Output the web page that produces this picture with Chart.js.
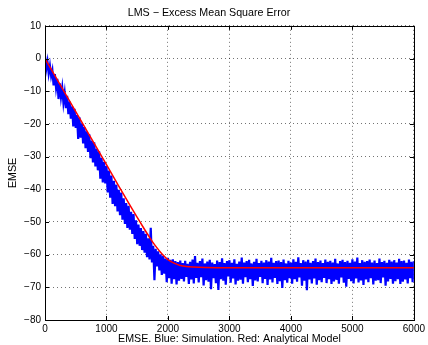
<!DOCTYPE html>
<html lang="en">
<head>
    <meta charset="UTF-8">
    <title>LMS - Excess Mean Square Error</title>
    <script src="https://cdn.jsdelivr.net/npm/chart.js"></script>
    <style>
        html, body { margin: 0; padding: 0; background: #fff; }
        #wrap { width: 428px; height: 345px; }
    </style>
</head>
<body>
<div id="wrap"><canvas id="emseChart" width="428" height="345"></canvas></div>
<script>
    // simulation, one value every SIM_STEP samples (dB)
    const SIM_STEP = 20;
    const simDb = [
        0.8, -3.2, -0.9, -4.6, -2.2, -5.4, -3.6, -8.2, -4.8, -9.0,
        -6.2, -12.4, -7.6, -11.8, -8.9, -13.6, -10.6, -15.2, -11.4, -17.0,
        -13.2, -18.4, -14.6, -20.8, -15.4, -21.2, -17.3, -24.6, -18.0, -24.2,
        -19.9, -26.0, -21.0, -27.4, -22.3, -28.6, -23.2, -30.5, -25.1, -31.8,
        -25.6, -33.0, -27.6, -34.2, -28.4, -36.8, -30.4, -37.9, -31.6, -38.2,
        -32.9, -41.0, -34.3, -42.6, -35.8, -44.5, -37.4, -45.2, -38.6, -46.8,
        -40.2, -47.9, -41.0, -49.3, -42.8, -50.6, -44.2, -51.8, -45.1, -52.4,
        -46.9, -53.7, -47.6, -55.2, -49.5, -56.8, -50.8, -57.3, -51.9, -58.6,
        -52.8, -59.4, -53.6, -60.8, -55.0, -61.5, -51.8, -62.4, -57.3, -67.8,
        -58.2, -63.6, -59.0, -64.8, -59.9, -66.2, -60.4, -65.8, -61.2, -68.4,
        -61.0, -67.2, -61.6, -68.9, -61.4, -67.5, -62.0, -69.1, -62.3, -68.0,
        -61.8,
        -67.4, -62.6, -68.2, -61.9, -66.8, -62.8, -69.0, -62.2, -67.6, -61.5,
        -68.8, -60.4, -67.1, -62.5, -68.5, -62.0, -66.9, -61.2, -69.4, -62.7,
        -67.8, -62.1, -68.3, -61.6, -70.6, -62.4, -67.2, -62.9, -68.7, -61.8,
        -70.8, -62.3, -67.5, -61.1, -68.0, -62.6, -69.2, -62.0, -66.7, -61.7,
        -68.6, -62.5, -67.3, -61.4, -69.1, -62.8, -68.0, -62.1, -67.7, -60.9,
        -68.9, -62.4, -66.9, -62.0, -68.4, -61.6, -67.5, -62.7, -69.6, -62.2,
        -67.9, -61.3, -68.2, -62.6, -66.8, -61.9, -68.7, -62.4, -67.4, -61.7,
        -69.3, -62.1, -67.6, -61.0, -68.5, -62.5, -67.1, -62.0, -69.0, -61.8,
        -68.1, -62.3, -70.2, -61.5, -67.8, -62.7, -68.6, -61.9, -67.2, -62.4,
        -68.9, -61.4, -67.5, -62.2, -68.3, -60.8, -67.0, -62.6, -69.5, -61.7,
        -68.0, -62.1, -70.9, -61.6, -67.6, -62.5, -68.8, -62.0, -67.3, -61.2,
        -69.2, -62.3, -67.8, -61.8, -68.4, -62.6, -67.1, -61.5, -68.7, -62.2,
        -67.5, -61.9, -69.0, -62.4, -68.2, -61.3, -67.7, -62.7, -68.9, -62.0,
        -67.0, -61.6, -68.6, -62.3, -69.8, -61.9, -67.4, -62.5, -68.1, -61.4,
        -68.8, -62.1, -67.3, -60.9, -68.5, -62.6, -67.9, -61.7, -69.3, -62.2,
        -67.6, -62.0, -68.4, -61.5, -67.2, -62.4, -69.1, -61.8, -68.0, -62.6,
        -67.8, -61.2, -68.7, -62.3, -67.0, -61.9, -69.5, -62.5, -68.2, -61.6,
        -67.4, -62.1, -68.9, -61.7, -68.1, -62.4, -67.5, -61.3, -69.0, -62.0,
        -68.3, -61.8, -67.6, -62.5, -68.8, -61.5, -67.2, -62.2, -68.4, -62.0
    ];

    // analytical model (dB)
    const modelN  = [0, 1000, 1400, 1500, 1600, 1700, 1800, 1900, 2000, 2100, 2200, 2300, 2400, 2600, 2800, 6000];
    const modelDb = [0, -32.5, -45.5, -48.6, -51.7, -54.7, -57.4, -59.7, -61.5, -62.6, -63.3, -63.65, -63.8, -63.95, -64, -64];

    const xTicks = [0, 1000, 2000, 3000, 4000, 5000, 6000];
    const yTicks = [10, 0, -10, -20, -30, -40, -50, -60, -70, -80];

    const simPoints = simDb.map((v, i) => ({ x: i * SIM_STEP, y: v }));
    const modelPoints = modelN.map((n, i) => ({ x: n, y: modelDb[i] }));

    const font = { family: "'Liberation Sans', Arial, Helvetica, sans-serif", size: 10 };
    const titleFont = { ...font, size: 10.7, weight: 'normal' };
    const fmt = v => String(v).replace('-', '\u2212');

    // matlab style box + inward tick marks
    const axesBox = {
        id: 'axesBox',
        afterDatasetsDraw(chart) {
            const { ctx, chartArea: a, scales } = chart;
            ctx.save();
            ctx.strokeStyle = '#000';
            ctx.lineWidth = 1;
            ctx.beginPath();
            xTicks.forEach(t => {
                const px = Math.round(scales.x.getPixelForValue(t)) + 0.5;
                ctx.moveTo(px, a.bottom); ctx.lineTo(px, a.bottom - 4);
                ctx.moveTo(px, a.top); ctx.lineTo(px, a.top + 4);
            });
            yTicks.forEach(t => {
                const py = Math.round(scales.y.getPixelForValue(t)) + 0.5;
                ctx.moveTo(a.left, py); ctx.lineTo(a.left + 4, py);
                ctx.moveTo(a.right, py); ctx.lineTo(a.right - 4, py);
            });
            ctx.stroke();
            ctx.strokeRect(Math.round(a.left) + 0.5, Math.round(a.top) + 0.5,
                Math.round(a.right - a.left), Math.round(a.bottom - a.top));
            ctx.restore();
        }
    };

    new Chart(document.getElementById('emseChart'), {
        type: 'line',
        data: {
            datasets: [
                {
                    label: 'Analytical Model',
                    data: modelPoints,
                    borderColor: '#ff0000',
                    borderWidth: 1.5,
                    pointRadius: 0,
                    tension: 0.3,
                    order: 0
                },
                {
                    label: 'Simulation',
                    data: simPoints,
                    borderColor: '#0000ff',
                    borderWidth: 2.2,
                    pointRadius: 0,
                    tension: 0,
                    order: 1
                }
            ]
        },
        options: {
            responsive: false,
            animation: false,
            events: [],
            layout: { padding: { top: 0, right: 10, bottom: 0, left: 0 } },
            plugins: {
                legend: { display: false },
                tooltip: { enabled: false },
                title: {
                    display: true,
                    text: 'LMS \u2212 Excess Mean Square Error',
                    color: '#000',
                    font: titleFont,
                    padding: { top: 7, bottom: 6 }
                }
            },
            scales: {
                x: {
                    type: 'linear',
                    min: 0,
                    max: 6000,
                    afterBuildTicks: s => { s.ticks = xTicks.map(v => ({ value: v })); },
                    afterFit: s => { s.height = 25; },
                    grid: { color: 'rgba(0,0,0,0.55)', lineWidth: 1, drawTicks: false },
                    border: { display: false, dash: [1, 3] },
                    ticks: { color: '#000', font, padding: 3, maxRotation: 0, autoSkip: false, callback: fmt },
                    title: {
                        display: true,
                        text: 'EMSE. Blue: Simulation. Red: Analytical Model',
                        color: '#000',
                        font: titleFont,
                        padding: { top: 0, bottom: 0 }
                    }
                },
                y: {
                    min: -80,
                    max: 10,
                    afterBuildTicks: s => { s.ticks = yTicks.map(v => ({ value: v })); },
                    afterFit: s => { s.width = 45; },
                    grid: { color: 'rgba(0,0,0,0.55)', lineWidth: 1, drawTicks: false },
                    border: { display: false, dash: [1, 3] },
                    ticks: { color: '#000', font, padding: 4, autoSkip: false, callback: fmt },
                    title: {
                        display: true,
                        text: 'EMSE',
                        color: '#000',
                        font: titleFont,
                        padding: { top: 7, bottom: 0 }
                    }
                }
            }
        },
        plugins: [axesBox]
    });
</script>
</body>
</html>
